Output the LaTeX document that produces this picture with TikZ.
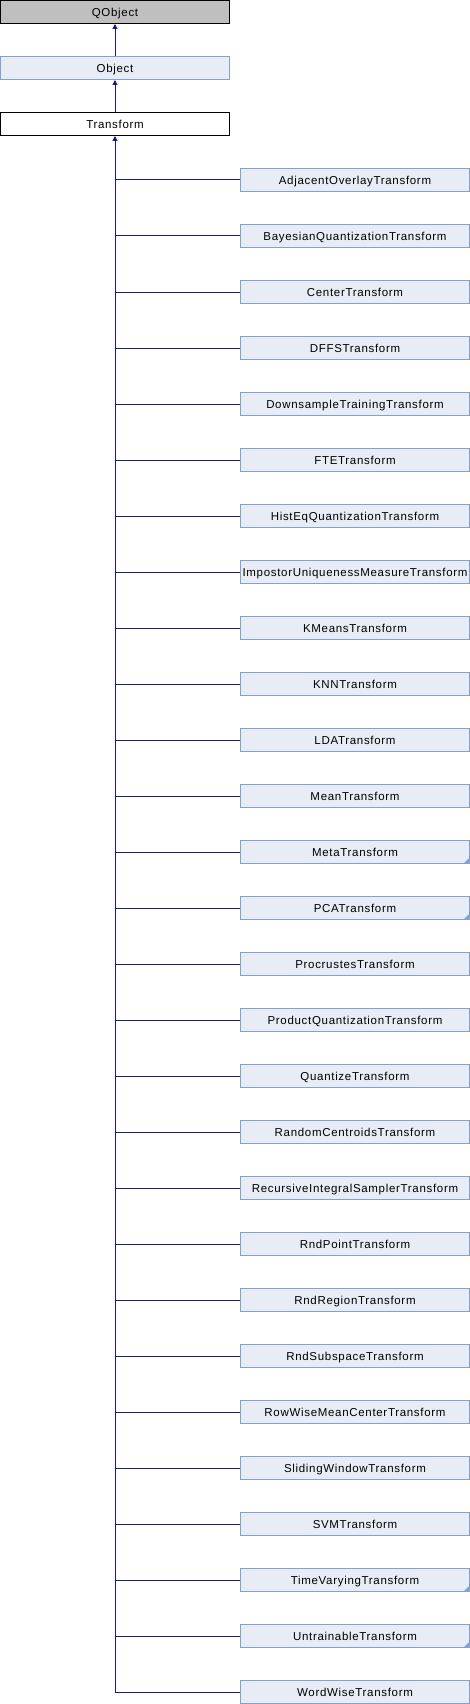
\documentclass[tikz,border=0pt]{standalone}
\usepackage{fontspec}
\setmainfont{Liberation Sans}[LetterSpace=6]
\usetikzlibrary{arrows.meta}
\definecolor{boxfill}{RGB}{232,236,245}
\definecolor{boxline}{RGB}{132,160,208}
\definecolor{grayfill}{RGB}{191,191,191}
\definecolor{edgecol}{RGB}{25,25,140}
\tikzset{
  x=1pt, y=1pt,
  base/.style={rectangle, minimum width=229pt, minimum height=23pt, inner sep=0pt, text height=8.2pt, text depth=0pt, line width=1pt, font=\fontsize{11.5}{13}\selectfont},
  graybox/.style={base, draw=black, fill=grayfill},
  bluebox/.style={base, draw=boxline, fill=boxfill},
  whitebox/.style={base, draw=black, fill=white},
  conn/.style={draw=edgecol, line width=1pt},
  inh/.style={conn, -{Triangle[length=5pt,width=5pt]}},
  corner/.style={fill=boxline}
}
\begin{document}
\begin{tikzpicture}
\useasboundingbox (0,0) rectangle (470,-1704);
\node[graybox] (qobject) at (115,-12) {QObject};
\node[bluebox] (object) at (115,-68) {Object};
\node[whitebox] (transform) at (115,-124) {Transform};
\draw[inh] (object.north) -- (qobject.south);
\draw[inh] (transform.north) -- (object.south);
\foreach \name [count=\i from 0] in {AdjacentOverlayTransform,BayesianQuantizationTransform,CenterTransform,DFFSTransform,DownsampleTrainingTransform,FTETransform,HistEqQuantizationTransform,ImpostorUniquenessMeasureTransform,KMeansTransform,KNNTransform,LDATransform,MeanTransform,MetaTransform,PCATransform,ProcrustesTransform,ProductQuantizationTransform,QuantizeTransform,RandomCentroidsTransform,RecursiveIntegralSamplerTransform,RndPointTransform,RndRegionTransform,RndSubspaceTransform,RowWiseMeanCenterTransform,SlidingWindowTransform,SVMTransform,TimeVaryingTransform,UntrainableTransform,WordWiseTransform}{
  \node[bluebox] (c\i) at (355,{-180-56*\i}) {\name};
}
\coordinate (trunkend) at (115,-1692);
\draw[inh] (trunkend) -- (transform.south);
\foreach \i in {0,...,27}{
  \draw[conn] (c\i.west) -- (c\i.west -| trunkend);
}
\foreach \i in {12,13,25,26}{
  \fill[corner] ([shift={(-0.5,0.5)}]c\i.south east) -- ++(-6,0) -- ++(6,6) -- cycle;
}
\end{tikzpicture}
\end{document}
